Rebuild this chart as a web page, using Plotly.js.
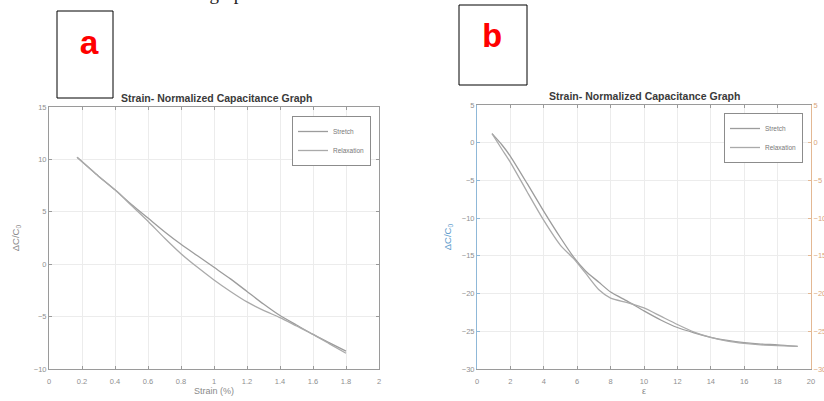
<!DOCTYPE html>
<html>
<head>
<meta charset="utf-8">
<script src="https://cdn.plot.ly/plotly-3.0.1.min.js"></script>
<style>
html,body{margin:0;padding:0;background:#fff;overflow:hidden;}
#chart{width:824px;height:401px;}
</style>
</head>
<body>
<div id="chart"></div>
<script>
// ---- Panel a data ----
const strainA = [0.17, 0.3, 0.4, 0.5, 0.6, 0.7, 0.8, 0.9, 1.0, 1.1, 1.2, 1.3, 1.4, 1.5, 1.6, 1.7, 1.8];
const stretchA = [10.2, 8.4, 7.1, 5.7, 4.4, 3.1, 1.9, 0.8, -0.3, -1.4, -2.6, -3.8, -4.9, -5.8, -6.7, -7.5, -8.3];
const relaxA   = [10.2, 8.4, 7.1, 5.6, 4.1, 2.5, 1.0, -0.3, -1.5, -2.6, -3.6, -4.4, -5.1, -5.9, -6.7, -7.6, -8.5];
const xTicksA = [0, 0.2, 0.4, 0.6, 0.8, 1, 1.2, 1.4, 1.6, 1.8, 2];
const yTicksA = [-10, -5, 0, 5, 10, 15];

// ---- Panel b data ----
const epsB = [0.9, 1.5, 2, 3, 4, 5, 5.8, 6.5, 7.3, 8, 9, 10, 11, 12, 13, 14, 15, 16, 17, 18, 19.2];
const stretchB = [1.2, -0.3, -1.8, -5.4, -9.1, -12.6, -15.2, -17.0, -18.5, -19.8, -21.0, -22.3, -23.5, -24.5, -25.2, -25.8, -26.2, -26.5, -26.7, -26.8, -27.0];
const relaxB   = [1.2, -0.9, -2.6, -6.5, -10.3, -13.6, -15.4, -17.3, -19.5, -20.6, -21.2, -21.9, -23.0, -24.1, -25.1, -25.8, -26.3, -26.6, -26.8, -26.9, -27.0];
const xTicksB = [0, 2, 4, 6, 8, 10, 12, 14, 16, 18, 20];
const yTicksB = [-30, -25, -20, -15, -10, -5, 0, 5];

const seriesNames = ['Stretch', 'Relaxation'];
const titleText = 'Strain- Normalized Capacitance Graph';

const W = 824, H = 401;
const px = v => v / W;
const py = v => 1 - v / H;

const FONT = 'Liberation Sans';
const MONO = 'Liberation Mono';
const tickFont = {family: FONT, size: 7.5, color: '#8f8f8f'};
const axisCommon = {
  showline: true, linecolor: '#9a9a9a', linewidth: 1,
  ticks: 'inside', ticklen: 3, tickcolor: '#9a9a9a',
  showgrid: true, gridcolor: '#ececec', gridwidth: 1,
  zeroline: false, tickfont: tickFont, fixedrange: true
};
const lineStyle = c => ({color: c, width: 1.3, shape: 'spline', smoothing: 0.6});

const traces = [
  {x: strainA, y: stretchA, name: seriesNames[0], mode: 'lines', xaxis: 'x', yaxis: 'y', legend: 'legend',
   line: lineStyle('#9c9c9c')},
  {x: strainA, y: relaxA, name: seriesNames[1], mode: 'lines', xaxis: 'x', yaxis: 'y', legend: 'legend',
   line: lineStyle('#aaaaaa')},
  {x: epsB, y: stretchB, name: seriesNames[0], mode: 'lines', xaxis: 'x2', yaxis: 'y2', legend: 'legend2',
   line: lineStyle('#9c9c9c')},
  {x: epsB, y: relaxB, name: seriesNames[1], mode: 'lines', xaxis: 'x2', yaxis: 'y2', legend: 'legend2',
   line: lineStyle('#aaaaaa')},
  {x: [], y: [], xaxis: 'x2', yaxis: 'y3', showlegend: false, hoverinfo: 'skip'}
];

const legendCommon = {
  bgcolor: '#ffffff', bordercolor: '#8c8c8c', borderwidth: 1,
  font: {family: FONT, size: 6.5, color: '#777'},
  itemwidth: 30, tracegroupgap: 0, xanchor: 'right', yanchor: 'top'
};

const layout = {
  width: W, height: H,
  margin: {l: 0, r: 0, t: 0, b: 0},
  paper_bgcolor: '#ffffff', plot_bgcolor: '#ffffff',
  showlegend: true,
  xaxis: Object.assign({}, axisCommon, {
    domain: [px(49), px(379)], range: [0, 2], tickvals: xTicksA, anchor: 'y', mirror: 'ticks',
    ticklabelstandoff: 5,
    title: {text: 'Strain (%)', font: {family: FONT, size: 9, color: '#8a8a8a'}, standoff: 1}
  }),
  yaxis: Object.assign({}, axisCommon, {
    domain: [py(369), py(107)], range: [-10, 15], tickvals: yTicksA, anchor: 'x', mirror: 'ticks',
    title: {text: 'ΔC/C<sub>0</sub>', font: {family: FONT, size: 9.5, color: '#8a8a8a'}, standoff: 12}
  }),
  xaxis2: Object.assign({}, axisCommon, {
    domain: [px(477), px(811)], range: [0, 20], tickvals: xTicksB, anchor: 'y2', mirror: 'ticks',
    ticklabelstandoff: 5,
    title: {text: 'ε', font: {family: FONT, size: 9, color: '#8a8a8a'}, standoff: 1}
  }),
  yaxis2: Object.assign({}, axisCommon, {
    domain: [py(369), py(105)], range: [-30, 5], tickvals: yTicksB, anchor: 'x2', mirror: false,
    linecolor: '#8fb8d8', tickcolor: '#8fb8d8',
    title: {text: 'ΔC/C<sub>0</sub>', font: {family: FONT, size: 9.5, color: '#5e9ccc'}, standoff: 8}
  }),
  yaxis3: {
    overlaying: 'y2', side: 'right', anchor: 'x2', range: [-30, 5], tickvals: yTicksB,
    showline: true, linecolor: '#e3b893', linewidth: 1, ticks: 'inside', ticklen: 3, tickcolor: '#e3b893',
    showgrid: false, zeroline: false, fixedrange: true,
    tickfont: {family: FONT, size: 7.5, color: '#d9a57a'}
  },
  legend: Object.assign({}, legendCommon, {x: px(371), y: py(116)}),
  legend2: Object.assign({}, legendCommon, {x: px(803), y: py(113)}),
  shapes: [
    {type: 'rect', xref: 'paper', yref: 'paper', x0: px(57), x1: px(113), y0: py(98), y1: py(11),
     line: {color: '#000', width: 1}, fillcolor: 'rgba(0,0,0,0)'},
    {type: 'rect', xref: 'paper', yref: 'paper', x0: px(459), x1: px(527), y0: py(85), y1: py(5),
     line: {color: '#000', width: 1}, fillcolor: 'rgba(0,0,0,0)'}
  ],
  annotations: [
    {text: '<b>a</b>', xref: 'paper', yref: 'paper', x: px(89), y: py(45), xanchor: 'center', yanchor: 'middle',
     showarrow: false, font: {family: MONO, size: 34, color: '#ff0000'}},
    {text: '<b>b</b>', xref: 'paper', yref: 'paper', x: px(492), y: py(38), xanchor: 'center', yanchor: 'middle',
     showarrow: false, font: {family: MONO, size: 34, color: '#ff0000'}},
    {text: '<b>' + titleText + '</b>', xref: 'paper', yref: 'paper', x: px(216), y: py(98),
     xanchor: 'center', yanchor: 'middle', showarrow: false, font: {family: FONT, size: 10.5, color: '#3a3a3a'}},
    {text: '<b>' + titleText + '</b>', xref: 'paper', yref: 'paper', x: px(644), y: py(96),
     xanchor: 'center', yanchor: 'middle', showarrow: false, font: {family: FONT, size: 10.5, color: '#3a3a3a'}},
    {text: 'in the graph.', xref: 'paper', yref: 'paper', x: px(160), y: py(-7), xanchor: 'left', yanchor: 'middle',
     showarrow: false, font: {family: 'Liberation Serif', size: 19, color: '#222'}}
  ]
};

Plotly.newPlot('chart', traces, layout, {displayModeBar: false, staticPlot: true});
</script>
</body>
</html>
